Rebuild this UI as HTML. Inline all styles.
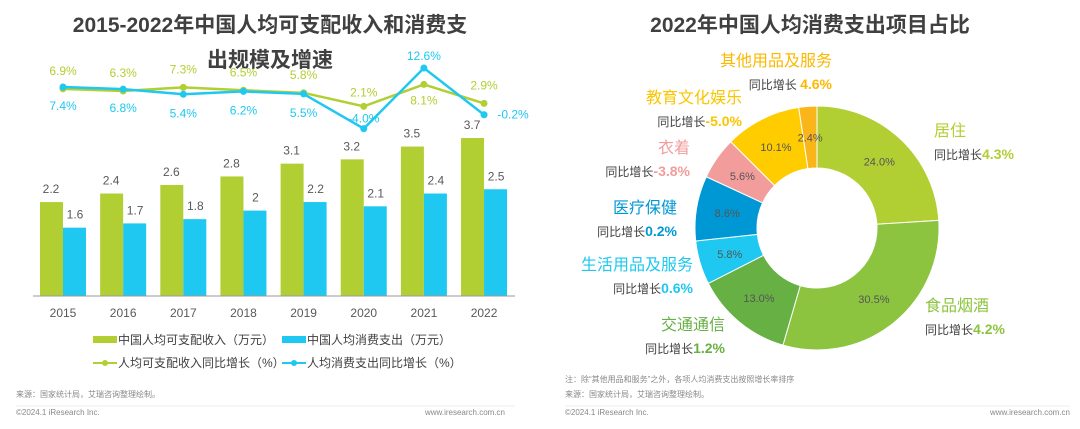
<!DOCTYPE html>
<html><head><meta charset="utf-8"><style>
body{margin:0;background:#fff;font-family:"Liberation Sans","Noto Sans CJK SC",sans-serif;}
svg text{font-family:"Liberation Sans","Noto Sans CJK SC",sans-serif;}
</style></head><body>
<svg id="c" width="1080" height="424" viewBox="0 0 1080 424" xmlns="http://www.w3.org/2000/svg">
<text x="270" y="32" text-anchor="middle" font-size="21" font-weight="bold" fill="#404040">2015-2022年中国人均可支配收入和消费支</text>
<text x="270" y="67" text-anchor="middle" font-size="21" font-weight="bold" fill="#404040">出规模及增速</text>
<text x="810" y="32" text-anchor="middle" font-size="21" font-weight="bold" fill="#404040">2022年中国人均消费支出项目占比</text>
<g id="left"></g>
<g id="right"></g>
<line x1="33" y1="296" x2="515" y2="296" stroke="#999" stroke-width="1"/>
<g font-size="12" fill="#404040">
<rect x="93" y="336" width="24" height="7" fill="#b1cf32"/>
<text x="118" y="344">中国人均可支配收入（万元）</text>
<rect x="282" y="336" width="24" height="7" fill="#1ec8f0"/>
<text x="307" y="344">中国人均消费支出（万元）</text>
<line x1="93" y1="363" x2="117" y2="363" stroke="#b1cf32" stroke-width="2"/><circle cx="105" cy="363" r="3" fill="#b1cf32"/>
<text x="118" y="367">人均可支配收入同比增长（%）</text>
<line x1="282" y1="363" x2="306" y2="363" stroke="#1ec8f0" stroke-width="2"/><circle cx="294" cy="363" r="3" fill="#1ec8f0"/>
<text x="307" y="367">人均消费支出同比增长（%）</text>
</g>
<g font-size="8" fill="#888">
<text x="16" y="397">来源：国家统计局，艾瑞咨询整理绘制。</text>
<line x1="16" y1="406" x2="515" y2="406" stroke="#eee"/>
<text x="16" y="415">©2024.1 iResearch Inc.</text>
<text x="505" y="415" text-anchor="end">www.iresearch.com.cn</text>
<text x="565" y="382">注：除“其他用品和服务”之外，各项人均消费支出按照增长率排序</text>
<text x="565" y="397">来源：国家统计局，艾瑞咨询整理绘制。</text>
<line x1="565" y1="406" x2="1070" y2="406" stroke="#eee"/>
<text x="565" y="415">©2024.1 iResearch Inc.</text>
<text x="1070" y="415" text-anchor="end">www.iresearch.com.cn</text>
</g>
</svg>
<script>
const years=["2015","2016","2017","2018","2019","2020","2021","2022"];
const income=[2.2,2.4,2.6,2.8,3.1,3.2,3.5,3.7];
const consume=[1.6,1.7,1.8,2,2.2,2.1,2.4,2.5];
const incomeGrowth=[6.9,6.3,7.3,6.5,5.8,2.1,8.1,2.9];
const consumeGrowth=[7.4,6.8,5.4,6.2,5.5,-4.0,12.6,-0.2];
const pieCats=["居住","食品烟酒","交通通信","生活用品及服务","医疗保健","衣着","教育文化娱乐","其他用品及服务"];
const pieVals=[24.0,30.5,13.0,5.8,8.6,5.6,10.1,2.4];
const pieGrowth=["4.3%","4.2%","1.2%","0.6%","0.2%","-3.8%","-5.0%","4.6%"];
const NS="http://www.w3.org/2000/svg";
function mk(t,a,p,txt){const e=document.createElementNS(NS,t);for(const k in a)e.setAttribute(k,a[k]);if(txt!==undefined)e.textContent=txt;p.appendChild(e);return e;}
const L=document.getElementById('left');
const xc=i=>63+i*60.15;
const yb=v=>296-v*42.7;
const yl=v=>114-v*3.65;
years.forEach((y,i)=>{
 const g=mk('rect',{x:xc(i)-23,y:yb(income[i]),width:23,height:296-yb(income[i]),fill:'#b1cf32'},L);
 
 
 const b=mk('rect',{x:xc(i),y:yb(consume[i]),width:23,height:296-yb(consume[i]),fill:'#1ec8f0'},L);
 
 
 const t1=mk('text',{x:xc(i)-12,y:yb(income[i])-9,'text-anchor':'middle','font-size':12,fill:'#595959'},L,String(income[i]));
 
 
 const t2=mk('text',{x:xc(i)+12,y:yb(consume[i])-9,'text-anchor':'middle','font-size':12,fill:'#595959'},L,String(consume[i]));
 
 
 const xl=mk('text',{x:xc(i),y:317,'text-anchor':'middle','font-size':12,fill:'#595959'},L,y);
 
 
});
function line(vals,col,name){
 const pts=vals.map((v,i)=>xc(i)+','+yl(v)).join(' ');
 const pl=mk('polyline',{points:pts,fill:'none',stroke:col,'stroke-width':2.5},L);
 
 
 vals.forEach((v,i)=>{const c=mk('circle',{cx:xc(i),cy:yl(v),r:3.5,fill:col},L);
  
  });
}
line(incomeGrowth,'#b1cf32','income-growth');
line(consumeGrowth,'#1ec8f0','consume-growth');
years.forEach((y,i)=>{
 const gv=incomeGrowth[i],cv=consumeGrowth[i];
 let gy,cy;
 if(cv>gv+3){cy=yl(cv)-8;gy=yl(gv)+20;}else if(gv>cv+3){gy=yl(gv)-10;cy=yl(cv)-6;}else{gy=yl(gv)-14;cy=yl(cv)+23;}
 let cx=xc(i);if(i===7){cx=xc(i)+29;cy=yl(cv)+4;gy=yl(gv)-14;}
 const a=mk('text',{x:xc(i),y:gy,'text-anchor':'middle','font-size':12,fill:'#b1cf32'},L,gv.toFixed(1)+'%');
 
 
 const b=mk('text',{x:cx,y:cy,'text-anchor':'middle','font-size':12,fill:'#1ec8f0'},L,cv.toFixed(1)+'%');
 
 
});
const R=document.getElementById('right');
const cx0=817,cy0=228,ro=122,ri=60;
const cols=['#b1cf32','#8cc43f','#67b044','#1ec8f0','#0098d4','#f29c9c','#ffcc00','#f9b51a'];
const lcol=['#b1cf32','#8cc43f','#67b044','#1ec8f0','#0098d4','#f29c9c','#fbc500','#fbb800'];
const labPos=[[934,136,'start'],[925,311,'start'],[725,330,'end'],[693,270,'end'],[677,213,'end'],[690,153,'end'],[742,103,'end'],[832,66,'end']];
const total=pieVals.reduce((a,b)=>a+b,0);
let acc=0;
pieVals.forEach((v,i)=>{
 const a0=acc/total*2*Math.PI,a1=(acc+v)/total*2*Math.PI;acc+=v;
 const P=(r,a)=>[cx0+r*Math.sin(a),cy0-r*Math.cos(a)];
 const [x1,y1]=P(ro,a0),[x2,y2]=P(ro,a1),[x3,y3]=P(ri,a1),[x4,y4]=P(ri,a0);
 const lg=(a1-a0)>Math.PI?1:0;
 const p=mk('path',{d:`M${x1},${y1}A${ro},${ro} 0 ${lg} 1 ${x2},${y2}L${x3},${y3}A${ri},${ri} 0 ${lg} 0 ${x4},${y4}Z`,fill:cols[i],stroke:'#fff','stroke-width':1},R);
 
 
 const am=(a0+a1)/2;const [tx,ty]=P(91,am);
 const t=mk('text',{x:tx,y:ty+4,'text-anchor':'middle','font-size':11,fill:'#555'},R,v.toFixed(1)+'%');
 
 
 const [lx,ly,an]=labPos[i];
 const c1=mk('text',{x:lx,y:ly,'text-anchor':an,'font-size':16,fill:lcol[i]},R,pieCats[i]);
 
 
 const c2=mk('text',{x:lx,y:ly+23,'text-anchor':an,'font-size':12,fill:'#404040'},R);
 
 
 mk('tspan',{},c2,'同比增长'+(i===7?' ':''));
 mk('tspan',{fill:lcol[i],'font-weight':'bold','font-size':14},c2,pieGrowth[i]);
});
</script>
</body></html>
